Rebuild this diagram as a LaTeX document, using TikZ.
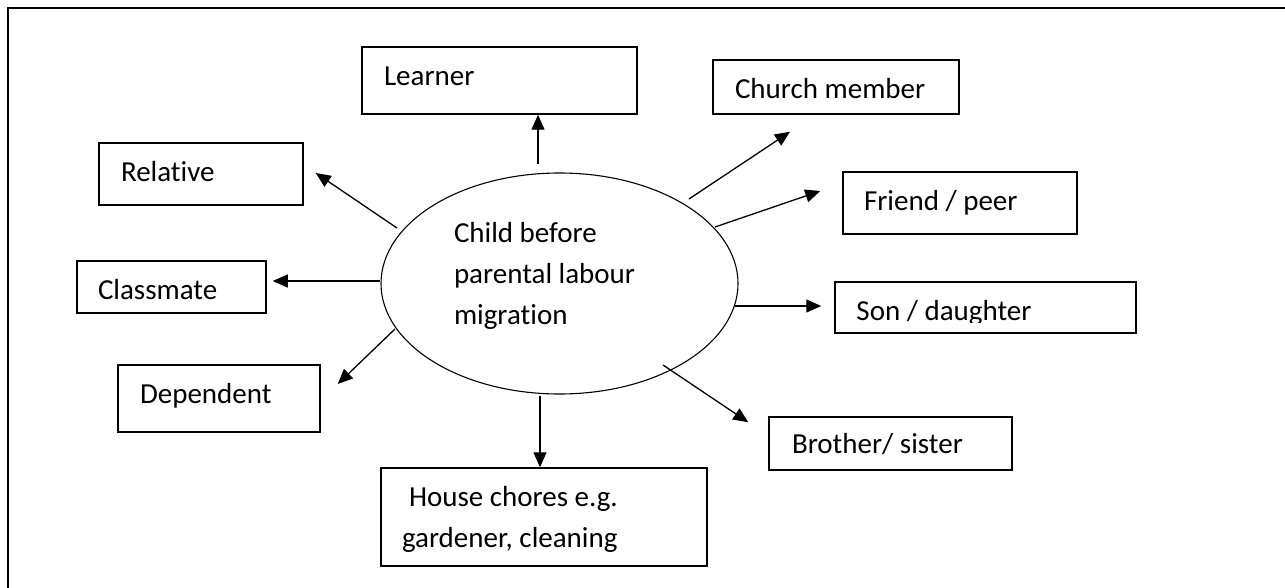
\documentclass[tikz,border=0pt]{standalone}
\usepackage{fontspec}
\setmainfont{Carlito}[Ligatures=NoCommon]
\usetikzlibrary{arrows.meta,calc,shapes.geometric}
\begin{document}
\begin{tikzpicture}[x=1pt,y=-1pt,
  every node/.style={font=\fontsize{29pt}{41pt}\selectfont},
  % #1 width, #2 height, #3 left padding, #4 baseline offset below centre
  rolebox/.style n args={4}{draw, line width=1.5pt, rectangle,
    minimum width=#1pt, minimum height=#2pt, inner xsep=#3pt, inner ysep=0pt,
    text width={#1pt-2*#3pt}, align=flush left, text height={2*#4pt}, text depth=0pt},
  hub/.style={draw, ellipse, line width=1.1pt, minimum width=357pt,
    minimum height=221pt, inner sep=0pt, text width=211pt, align=flush left,
    text height=0pt, text depth=81.6pt},
  arr/.style={line width=1.3pt, -{Triangle[length=15pt,width=13pt]}},
  framerule/.style={line width=2.2pt}]
\useasboundingbox (0,0) rectangle (1285,588);

% outer frame (top and left rules)
\draw[framerule] (8,588) -- (8,8) -- (1285,8);

% central ellipse
\node[hub] (child) at (559.5,283.5) {Child before\\parental labour\\migration};

% surrounding roles
\node[rolebox={275}{67}{22}{5.5}]  (learner)   at (499.5,80.5)  {Learner};
\node[rolebox={246}{54}{22}{12}]   (church)    at (836,87)      {Church member};
\node[rolebox={204}{62}{22}{7.7}]  (relative)  at (201,174)     {Relative};
\node[rolebox={234}{62}{21}{7.7}]  (friend)    at (960,203)     {Friend / peer};
\node[rolebox={189}{52}{21}{12}]   (classmate) at (171.5,287)   {Classmate};
\node[rolebox={301}{51}{22}{12.5}] (son)       at (985.5,307.5) {};
\node[rolebox={202}{67}{22}{4.5}]  (dependent) at (219,398.5)   {Dependent};
\node[rolebox={243}{53}{23}{9.5}]  (brother)   at (890.5,443.5) {Brother/ sister};
\node[rolebox={326}{98}{21}{0}, text height=0pt, text depth=20.6pt]
     (house) at (544,517) {\hspace{7pt}House chores e.g.\\gardener, cleaning};

% label of the son/daughter box, cut off just below the baseline
\begin{scope}
  \clip (son.north west) rectangle ($(son.east)+(0,14.5)$);
  \node[anchor=base west, inner sep=0pt] (sontext) at ($(son.west)+(22,12.5)$) {Son / daughter};
\end{scope}

% connectors
\draw[arr] ($(child.north)+(-21.5,-8)$) coordinate (a1) -- (a1 |- learner.south);
\draw[arr] ($(child.center)+(129.5,-84.5)$) -- ($(church.south)+(-46,17)$);
\draw[arr] ($(child.center)+(155.5,-56.5)$) -- ($(friend.west)+(-22,-12)$);
\draw[arr] ($(child.center)+(175.5,22.5)$) -- ($(son.west)+(-13,-1.5)$);
\draw[arr] ($(child.center)+(103.5,81.5)$) -- ($(brother.north west)+(-20,6)$);
\draw[arr] ($(child.south)+(-19.5,1)$) coordinate (a6) -- (a6 |- house.north);
\draw[arr] ($(child.center)+(-164.5,45.5)$) -- ($(dependent.east)+(17,-14.5)$);
\draw[arr] ($(child.west)+(0,-2.5)$) -- ($(classmate.east)+(6,-6)$);
\draw[arr] ($(child.center)+(-162.5,-55.5)$) -- ($(relative.east)+(12,-1)$);
\end{tikzpicture}
\end{document}
